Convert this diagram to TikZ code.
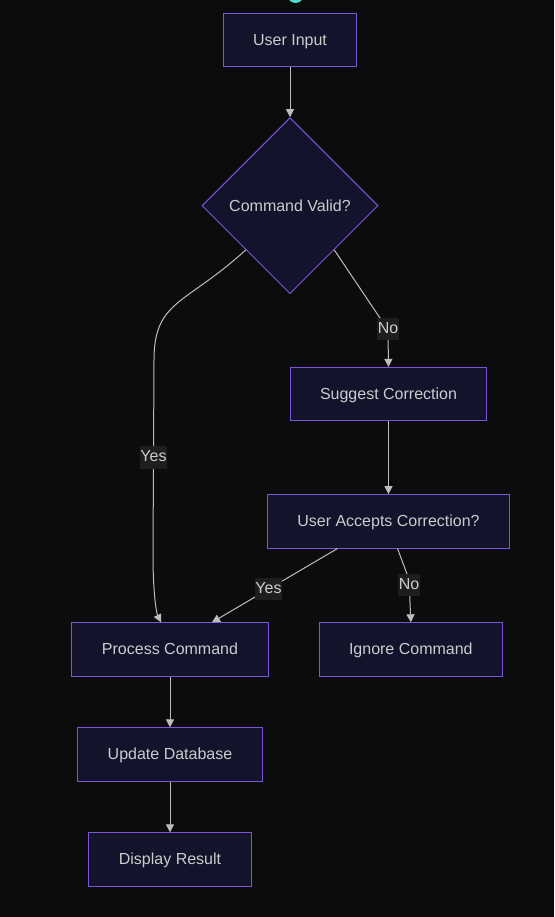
\documentclass[tikz,border=0pt]{standalone}
\usepackage{fontspec}
\setmainfont{Liberation Sans}
\usetikzlibrary{calc,positioning,shapes.geometric,arrows.meta}
\definecolor{bgdark}{HTML}{0C0C0C}
\definecolor{boxfill}{HTML}{13132B}
\definecolor{boxline}{HTML}{7C55D9}
\definecolor{textgray}{HTML}{CCCCCC}
\definecolor{linegray}{HTML}{BDBDBD}
\definecolor{labelbg}{HTML}{1E1E1E}
\definecolor{tealdot}{HTML}{4EDDC8}
\tikzset{
	operation/.style={
		draw=boxline,
		fill=boxfill,
		rectangle,
		line width=0.75pt,
		text=textgray,
		inner xsep=22.5pt,
		inner ysep=0pt,
		minimum height=40pt,
		text height=11pt,
		text depth=3pt,
		font=\fontsize{12pt}{14pt}\selectfont
	},
	decision/.style={ % requires library shapes.geometric
		draw=boxline,
		fill=boxfill,
		diamond,
		aspect=1,
		line width=0.75pt,
		text=textgray,
		inner sep=0pt,
		minimum width=#1,
		minimum height=#1,
		font=\fontsize{12pt}{14pt}\selectfont
	},
	decision/.default=132pt,
	flow/.style={
		draw=linegray,
		line width=0.75pt,
		-{Triangle[length=6pt,width=6pt]}
	},
	edge label/.style={
		fill=labelbg,
		text=textgray,
		inner xsep=0.5pt,
		inner ysep=2.5pt,
		text height=9pt,
		text depth=3pt,
		font=\fontsize{12pt}{14pt}\selectfont
	},
}

\begin{document}
\begin{tikzpicture}[x=0.75pt,y=-0.75pt]
		\fill[bgdark] (0,0) rectangle (554,917);
		\useasboundingbox (0,0) rectangle (554,917);
		\begin{scope}
			\clip (0,0) rectangle (554,917);
			\fill[tealdot] (295.5,-5) circle (6pt);
		\end{scope}
		\node[operation] (input) at (290,40) {User Input};
		\node[below=37.5pt of input,decision] (valid) {Command Valid?};
		\node[operation] (suggest) at (388.5,394) {Suggest Correction};
		\node[below=54.75pt of suggest,operation] (accepts) {User Accepts Correction?};
		\node[operation] (process) at (170,649.5) {Process Command};
		\node[right=37.5pt of process,operation] (ignore) {Ignore Command};
		\node[below=38pt of process,operation] (update) {Update Database};
		\node[below=38pt of update,operation] (display) {Display Result};

		\draw[flow] (input) -- (valid);
		\draw[flow] (valid.south west) .. controls +(-60,55) and +(0,-60) .. (154,360)
			-- node[edge label] {Yes} (153,555)
			.. controls (153,590) and (156,612) .. ($(process.north)+(-9,0)$);
		\draw[flow] (valid.south east) -- (382,321) -- (388,333) -- (suggest.north);
		\node[edge label] (no1) at (388,329) {No};
		\draw[flow] (suggest) -- (accepts);
		\draw[flow] ($(accepts.south)+(-51,0)$) -- node[edge label,pos=0.55] {Yes} ($(process.north)+(42,0)$);
		\draw[flow] ($(accepts.south)+(9,0)$) -- (407,574) -- (409.5,590) -- (ignore.north);
		\node[edge label] (no2) at (409,585) {No};
		\draw[flow] (process) -- (update);
		\draw[flow] (update) -- (display);
	\end{tikzpicture}
\end{document}
